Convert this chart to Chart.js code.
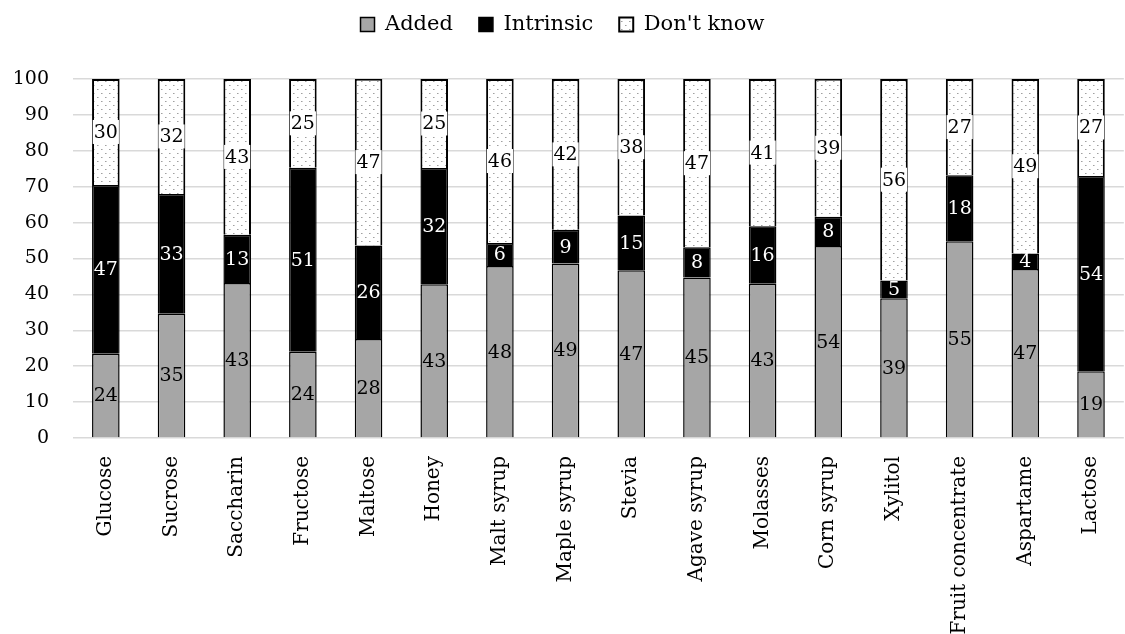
<!DOCTYPE html>
<html>
<head>
<meta charset="utf-8">
<script src="https://cdn.jsdelivr.net/npm/chart.js@4.4.0/dist/chart.umd.min.js"></script>
<style>
  html, body { margin: 0; padding: 0; background: #fff; }
  #wrap { width: 1125px; height: 634px; }
</style>
</head>
<body>
<div id="wrap"><canvas id="sugarChart" width="1125" height="634"></canvas></div>
<script>
const categories = ['Glucose', 'Sucrose', 'Saccharin', 'Fructose', 'Maltose', 'Honey', 'Malt syrup',
    'Maple syrup', 'Stevia', 'Agave syrup', 'Molasses', 'Corn syrup', 'Xylitol', 'Fruit concentrate',
    'Aspartame', 'Lactose'];
const added = [23.5, 34.6, 43.2, 24.0, 27.6, 42.8, 47.9, 48.6, 46.7, 44.7, 43.0, 53.5, 38.9, 54.8, 47.1, 18.6];
const intrinsic = [47.0, 33.4, 13.4, 51.3, 26.0, 32.4, 6.4, 9.4, 15.3, 8.4, 16.0, 8.1, 5.0, 18.4, 4.3, 54.4];
const dontKnow = [29.5, 32.0, 43.4, 24.7, 46.5, 24.8, 45.7, 42.0, 38.0, 46.9, 41.0, 38.5, 56.1, 26.8, 48.6, 27.0];
const yTicks = [0, 10, 20, 30, 40, 50, 60, 70, 80, 90, 100];

const FONT = '"DejaVu Serif", serif';

function dotPattern() {
    const c = document.createElement('canvas');
    c.width = 8; c.height = 8;
    const g = c.getContext('2d');
    g.fillStyle = '#ffffff';
    g.fillRect(0, 0, 8, 8);
    g.fillStyle = '#a0a0a0';
    g.fillRect(1, 1, 1, 1);
    g.fillRect(5, 5, 1, 1);
    g.fillStyle = '#cccccc';
    g.fillRect(2, 1, 1, 1);
    g.fillRect(6, 5, 1, 1);
    return g.createPattern(c, 'repeat');
}

// numbers inside each segment
const segmentLabels = {
    id: 'segmentLabels',
    afterDatasetsDraw(chart) {
        const ctx = chart.ctx;
        ctx.save();
        ctx.font = '19px ' + FONT;
        ctx.textAlign = 'center';
        ctx.textBaseline = 'middle';
        chart.data.datasets.forEach((ds, i) => {
            const meta = chart.getDatasetMeta(i);
            meta.data.forEach((bar, j) => {
                const txt = String(Math.round(ds.data[j]));
                const cy = (bar.y + bar.base) / 2;
                if (i === 2) {
                    const w = ctx.measureText(txt).width + 2;
                    ctx.fillStyle = '#ffffff';
                    ctx.fillRect(bar.x - w / 2, cy - 12, w, 24);
                }
                ctx.fillStyle = i === 1 ? '#ffffff' : '#000000';
                ctx.fillText(txt, bar.x, cy + 1);
            });
        });
        ctx.restore();
    }
};

// legend takes a fixed band so the plot starts where the reference does
const legendBand = {
    id: 'legendBand',
    beforeInit(chart) {
        const fit = chart.legend.fit;
        chart.legend.fit = function() {
            fit.call(this);
            this.height = 91;
        };
    }
};

const ctx = document.getElementById('sugarChart').getContext('2d');
const chart = new Chart(ctx, {
    type: 'bar',
    data: {
        labels: categories,
        datasets: [
            { label: 'Added', data: added, backgroundColor: '#a6a6a6', borderColor: '#000', borderWidth: 1.5 },
            { label: 'Intrinsic', data: intrinsic, backgroundColor: '#000000', borderColor: '#000', borderWidth: 1.5 },
            { label: "Don't know", data: dontKnow, backgroundColor: dotPattern(), borderColor: '#000', borderWidth: 2 }
        ]
    },
    options: {
        responsive: false,
        animation: false,
        layout: { padding: { top: -12, left: 0, right: 0, bottom: 0 } },
        datasets: { bar: { barPercentage: 0.42, categoryPercentage: 1 } },
        plugins: {
            legend: {
                position: 'top',
                labels: {
                    font: { family: FONT, size: 21 },
                    color: '#000',
                    boxWidth: 14,
                    boxHeight: 14,
                    padding: 26
                }
            },
            tooltip: { enabled: false }
        },
        scales: {
            x: {
                stacked: true,
                grid: { display: false },
                border: { display: false },
                ticks: { font: { family: FONT, size: 20 }, color: '#000', minRotation: 90, maxRotation: 90, padding: 10 },
                afterFit: s => { s.height = 196; }
            },
            y: {
                stacked: true,
                min: 0,
                max: 100,
                afterBuildTicks: s => { s.ticks = yTicks.map(v => ({ value: v })); },
                grid: { color: '#d9d9d9', lineWidth: 1.5, drawTicks: false },
                border: { display: false },
                ticks: { font: { family: FONT, size: 19 }, color: '#000', padding: 24 },
                afterFit: s => { s.width = 73; }
            }
        }
    },
    plugins: [segmentLabels, legendBand]
});
</script>
</body>
</html>
